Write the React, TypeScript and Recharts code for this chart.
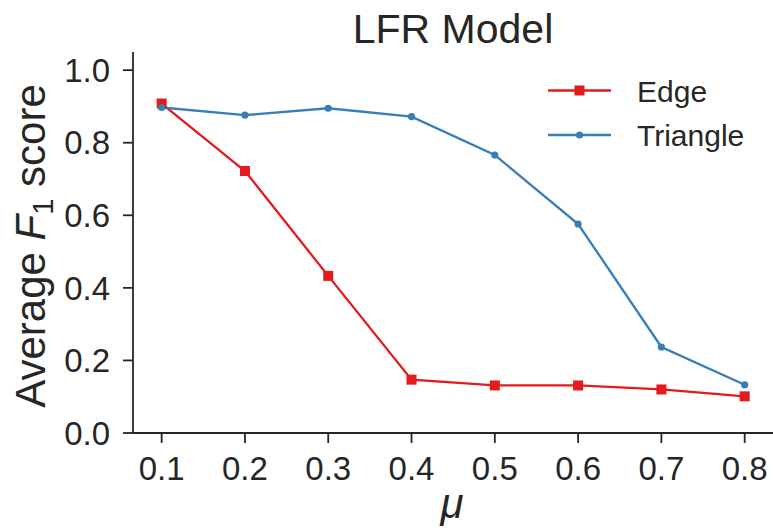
import { LineChart, Line, XAxis, YAxis } from "recharts";

const mu = [0.1, 0.2, 0.3, 0.4, 0.5, 0.6, 0.7, 0.8];
const edgeScores = [0.908, 0.722, 0.433, 0.147, 0.131, 0.131, 0.12, 0.101];
const triangleScores = [0.897, 0.876, 0.895, 0.872, 0.766, 0.576, 0.237, 0.133];
const yTicks = [0, 0.2, 0.4, 0.6, 0.8, 1.0];

const RED = "#e41a1c";
const BLUE = "#377eb8";
const INK = "#262626";
const FONT = "'Liberation Sans', Arial, sans-serif";

const data = mu.map((m, i) => ({
  mu: m,
  edge: edgeScores[i],
  triangle: triangleScores[i],
}));

const SquareDot = (props: any) => {
  const { cx, cy, index } = props;
  if (cx == null || cy == null) return <g key={`sq-${index}`} />;
  return (
    <rect
      key={`sq-${index}`}
      x={cx - 5}
      y={cy - 5}
      width={10}
      height={10}
      fill={RED}
    />
  );
};

export default function App() {
  return (
    <div
      style={{
        position: "absolute",
        left: 0,
        top: 0,
        width: 773,
        height: 531,
        background: "#fff",
        fontFamily: FONT,
      }}
    >
      <LineChart
        width={773}
        height={531}
        data={data}
        margin={{ top: 52, right: 0, bottom: 0, left: 0 }}
      >
        <XAxis
          dataKey="mu"
          type="number"
          domain={[0.0656, 0.834]}
          ticks={mu}
          allowDataOverflow
          height={98}
          tickSize={10}
          tickMargin={14}
          tickFormatter={(v: number) => v.toFixed(1)}
          axisLine={{ stroke: INK, strokeWidth: 1.8 }}
          tickLine={{ stroke: INK, strokeWidth: 1.8 }}
          tick={{ fill: INK, fontSize: 33, fontFamily: FONT }}
        />
        <YAxis
          type="number"
          domain={[0, 1.05]}
          ticks={yTicks}
          allowDataOverflow
          width={133}
          tickSize={10}
          tickMargin={13}
          tickFormatter={(v: number) => v.toFixed(1)}
          axisLine={{ stroke: INK, strokeWidth: 1.8 }}
          tickLine={{ stroke: INK, strokeWidth: 1.8 }}
          tick={{ fill: INK, fontSize: 33, fontFamily: FONT }}
        />
        <Line
          dataKey="edge"
          name="Edge"
          stroke={RED}
          strokeWidth={2.3}
          dot={SquareDot}
          activeDot={false}
          isAnimationActive={false}
        />
        <Line
          dataKey="triangle"
          name="Triangle"
          stroke={BLUE}
          strokeWidth={2.3}
          dot={{ r: 3.6, fill: BLUE, stroke: BLUE, strokeWidth: 0 }}
          activeDot={false}
          isAnimationActive={false}
        />
      </LineChart>
      <svg
        width={773}
        height={531}
        style={{ position: "absolute", left: 0, top: 0, pointerEvents: "none" }}
      >
        <text
          x={453}
          y={43}
          textAnchor="middle"
          fontSize={41}
          fill={INK}
          fontFamily={FONT}
        >
          LFR Model
        </text>
        {/* legend */}
        <line x1={548} y1={90.5} x2={611} y2={90.5} stroke={RED} strokeWidth={2.3} />
        <rect x={574.5} y={85.5} width={10} height={10} fill={RED} />
        <text x={637} y={101.5} fontSize={30} fill={INK} fontFamily={FONT}>
          Edge
        </text>
        <line x1={548} y1={135} x2={611} y2={135} stroke={BLUE} strokeWidth={2.3} />
        <circle cx={579.5} cy={135} r={3.6} fill={BLUE} />
        <text x={637} y={146} fontSize={30} fill={INK} fontFamily={FONT}>
          Triangle
        </text>
        <text
          transform="translate(45,246) rotate(-90)"
          textAnchor="middle"
          fontSize={42}
          fill={INK}
          fontFamily={FONT}
        >
          Average <tspan fontStyle="italic">F</tspan>
          <tspan fontSize={29} dy={8}>
            1
          </tspan>
          <tspan dy={-8}> score</tspan>
        </text>
        <text
          x={452}
          y={518}
          textAnchor="middle"
          fontSize={42}
          fontStyle="italic"
          fill={INK}
          fontFamily={FONT}
        >
          μ
        </text>
      </svg>
    </div>
  );
}
